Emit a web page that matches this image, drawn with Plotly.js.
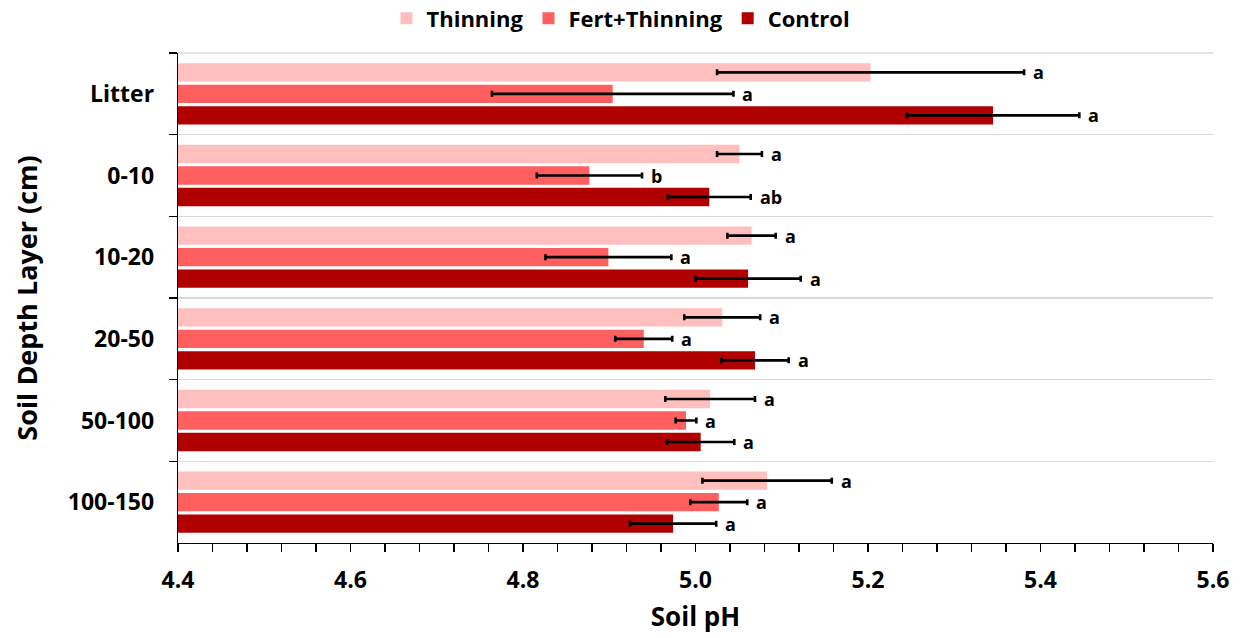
<!DOCTYPE html>
<html>
<head>
<meta charset="utf-8">
<script src="https://cdn.plot.ly/plotly-3.0.1.min.js"></script>
<style>html,body{margin:0;padding:0;background:#fff;}#chart{width:1241px;height:638px;}</style>
</head>
<body>
<div id="chart"></div>
<script>
// Depth layers (top to bottom)
var layers = ["Litter", "0-10", "10-20", "20-50", "50-100", "100-150"];

// Mean soil pH per treatment
var thinning     = [5.203, 5.051, 5.065, 5.031, 5.017, 5.083];
var fertThinning = [4.904, 4.877, 4.899, 4.940, 4.989, 5.027];
var control      = [5.345, 5.016, 5.061, 5.069, 5.006, 4.974];

// Error (± half-width of error bar)
var thinningErr     = [0.178, 0.026, 0.028, 0.044, 0.052, 0.075];
var fertThinningErr = [0.140, 0.061, 0.073, 0.033, 0.012, 0.033];
var controlErr      = [0.100, 0.048, 0.061, 0.039, 0.039, 0.050];

// Significance letters
var thinningLetters     = ["a", "a", "a", "a", "a", "a"];
var fertThinningLetters = ["a", "b", "a", "a", "a", "a"];
var controlLetters      = ["a", "ab", "a", "a", "a", "a"];

var seriesNames = ["Thinning", "Fert+Thinning", "Control"];
var seriesColors = ["#FFBFBF", "#FF5F5F", "#B00000"];

var FONT = "Open Sans, Noto Sans, Liberation Sans, sans-serif";
var bargap = 0.21;
var bargroupgap = 0.15;

var means = [thinning, fertThinning, control];
var errs = [thinningErr, fertThinningErr, controlErr];
var letters = [thinningLetters, fertThinningLetters, controlLetters];

var traces = means.map(function (vals, i) {
  return {
    type: "bar",
    orientation: "h",
    name: seriesNames[i],
    y: layers,
    x: vals,
    marker: { color: seriesColors[i], line: { width: 0 } },
    error_x: {
      type: "data",
      array: errs[i],
      visible: true,
      color: "#000000",
      thickness: 2.6,
      width: 3
    },
    hoverinfo: "x+y+name"
  };
});

// Letter annotations placed right of each error bar
var slot = (1 - bargap) / 3;
var annotations = [];
for (var s = 0; s < 3; s++) {
  for (var k = 0; k < layers.length; k++) {
    annotations.push({
      xref: "x", yref: "y",
      x: means[s][k] + errs[s][k],
      y: k + (s - 1) * slot,
      text: letters[s][k],
      showarrow: false,
      xanchor: "left",
      yanchor: "middle",
      xshift: 7,
      font: { family: FONT, size: 18, color: "#000", weight: "bold" }
    });
  }
}

var layout = {
  width: 1241,
  height: 638,
  margin: { l: 178, r: 28, t: 53, b: 95, pad: 0 },
  paper_bgcolor: "#ffffff",
  plot_bgcolor: "#ffffff",
  barmode: "group",
  bargap: bargap,
  bargroupgap: bargroupgap,
  font: { family: FONT, color: "#000", weight: "bold" },
  showlegend: true,
  legend: {
    orientation: "h",
    xref: "paper",
    yref: "container",
    x: 0.428,
    xanchor: "center",
    y: 0.971,
    yanchor: "middle",
    traceorder: "normal",
    font: { family: FONT, size: 22, color: "#000", weight: "bold" },
    bgcolor: "rgba(0,0,0,0)",
    itemclick: false
  },
  xaxis: {
    range: [4.4, 5.6],
    dtick: 0.2,
    tick0: 4.4,
    tickformat: ".1f",
    ticks: "outside",
    ticklen: 8,
    tickwidth: 1.3,
    tickcolor: "#000",
    showline: true,
    linecolor: "#000",
    linewidth: 1.3,
    showgrid: false,
    zeroline: false,
    minor: { dtick: 0.04, ticks: "outside", ticklen: 8, tickwidth: 1.3, tickcolor: "#000", showgrid: false },
    tickfont: { family: FONT, size: 23, color: "#000", weight: "bold" },
    ticklabelstandoff: 8,
    title: { text: "Soil pH", font: { family: FONT, size: 26, color: "#000", weight: "bold" }, standoff: 14 }
  },
  yaxis: {
    type: "category",
    autorange: "reversed",
    tickson: "boundaries",
    ticks: "outside",
    ticklen: 8,
    tickwidth: 1.3,
    tickcolor: "#000",
    showline: true,
    linecolor: "#000",
    linewidth: 1.3,
    showgrid: true,
    gridcolor: "#D9D9D9",
    gridwidth: 1.5,
    zeroline: false,
    tickfont: { family: FONT, size: 23, color: "#000", weight: "bold" },
    ticklabelstandoff: 18,
    title: { text: "Soil Depth Layer (cm)", font: { family: FONT, size: 27, color: "#000", weight: "bold" }, standoff: 22 }
  },
  shapes: [
    { type: "line", xref: "paper", yref: "paper", x0: 0, x1: 1, y0: 1, y1: 1,
      line: { color: "#D9D9D9", width: 1.5 }, layer: "below" }
  ],
  annotations: annotations
};

Plotly.newPlot("chart", traces, layout, { displayModeBar: false, staticPlot: true });
</script>
</body>
</html>
